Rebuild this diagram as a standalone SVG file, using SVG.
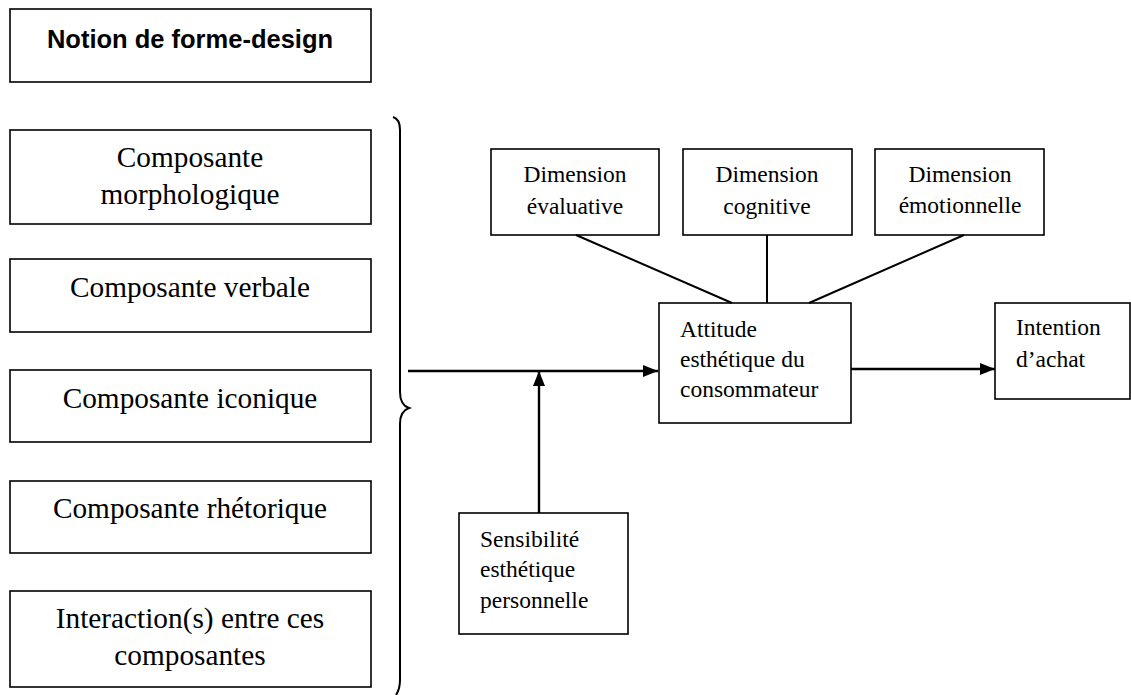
<svg xmlns="http://www.w3.org/2000/svg" width="1131" height="695" viewBox="0 0 1131 695">
<style>
.box{fill:#fff;stroke:#000;stroke-width:1.6}
.t{font-family:"Liberation Serif","Times New Roman",serif;fill:#000}
.big{font-size:29.3px}
.sm{font-size:23.5px}
.c{text-anchor:middle}
.ttl{font-family:"Liberation Sans",Arial,sans-serif;font-weight:bold;font-size:25.5px;text-anchor:middle;fill:#000}
.ln{stroke:#000;stroke-width:2;fill:none}
.ar{stroke:#000;stroke-width:2.4;fill:none}
</style>
<defs>
<marker id="arr" markerUnits="userSpaceOnUse" markerWidth="16" markerHeight="13" refX="15" refY="6" orient="auto">
<path d="M0,0 L15,6 L0,12 z" fill="#000"/>
</marker>
</defs>
<rect width="1131" height="695" fill="#fff"/>

<g id="title">
<rect class="box" x="10" y="9" width="361" height="73"/>
<text class="ttl" x="190" y="48">Notion de forme-design</text>
</g>
<g id="morpho">
<rect class="box" x="10" y="130" width="361" height="94"/>
<text class="t big c" x="190" y="167">Composante</text>
<text class="t big c" x="190" y="204">morphologique</text>
</g>
<g id="verbale">
<rect class="box" x="10" y="259" width="361" height="73"/>
<text class="t big c" x="190" y="297">Composante verbale</text>
</g>
<g id="iconique">
<rect class="box" x="10" y="370" width="361" height="72"/>
<text class="t big c" x="190" y="408">Composante iconique</text>
</g>
<g id="rhetorique">
<rect class="box" x="10" y="481" width="361" height="72"/>
<text class="t big c" x="190" y="518">Composante rhétorique</text>
</g>
<g id="interaction">
<rect class="box" x="10" y="591" width="361" height="96"/>
<text class="t big c" x="190" y="628">Interaction(s) entre ces</text>
<text class="t big c" x="190" y="665">composantes</text>
</g>

<g id="brace">
<path class="ln" d="M393,117 Q400,119 400,130 L400,392 Q400,405 409,408 Q400,411 400,424 L400,680 Q400,689 396,695"/>
</g>

<g id="evaluative">
<rect class="box" x="491" y="149" width="168" height="86"/>
<text class="t sm c" x="575" y="182">Dimension</text>
<text class="t sm c" x="575" y="214">évaluative</text>
</g>
<g id="cognitive">
<rect class="box" x="683" y="149" width="169" height="86"/>
<text class="t sm c" x="767" y="182">Dimension</text>
<text class="t sm c" x="767" y="214">cognitive</text>
</g>
<g id="emotionnelle">
<rect class="box" x="875" y="149" width="169" height="86"/>
<text class="t sm c" x="960" y="182">Dimension</text>
<text class="t sm c" x="960" y="213">émotionnelle</text>
</g>
<g id="attitude">
<rect class="box" x="659" y="303" width="192" height="120"/>
<text class="t sm" x="680" y="337">Attitude</text>
<text class="t sm" x="680" y="367">esthétique du</text>
<text class="t sm" x="680" y="397">consommateur</text>
</g>
<g id="intention">
<rect class="box" x="995" y="303" width="135" height="96"/>
<text class="t sm" x="1016" y="335">Intention</text>
<text class="t sm" x="1016" y="367">d’achat</text>
</g>
<g id="sensibilite">
<rect class="box" x="459" y="513" width="169" height="121"/>
<text class="t sm" x="480" y="547">Sensibilité</text>
<text class="t sm" x="480" y="577">esthétique</text>
<text class="t sm" x="480" y="608">personnelle</text>
</g>

<g id="connectors">
<line class="ln" x1="576" y1="235" x2="732" y2="303"/>
<line class="ln" x1="767" y1="235" x2="767" y2="303"/>
<line class="ln" x1="964" y1="235" x2="809" y2="303"/>
<line class="ar" x1="408" y1="371" x2="658" y2="371" marker-end="url(#arr)"/>
<line class="ar" x1="539" y1="513" x2="539" y2="371" marker-end="url(#arr)"/>
<line class="ar" x1="851" y1="369" x2="995" y2="369" marker-end="url(#arr)"/>
</g>
</svg>
